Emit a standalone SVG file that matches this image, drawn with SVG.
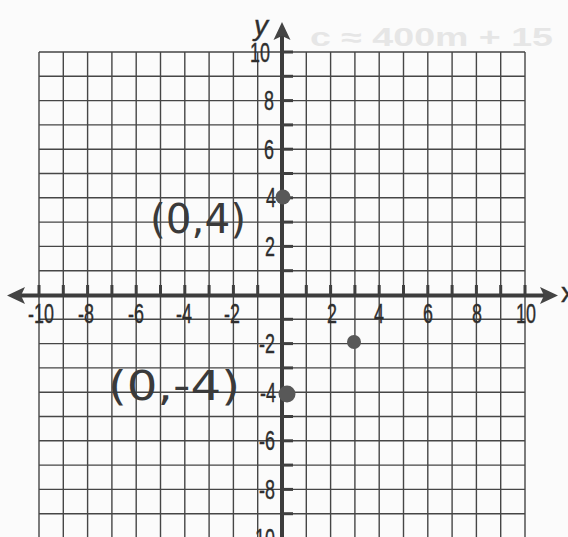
<svg xmlns="http://www.w3.org/2000/svg" width="568" height="537" viewBox="0 0 568 537">
<defs>
<style>
.grid{stroke:#464646;stroke-width:1.4;fill:none}
.axis{stroke:#3c3c3c;stroke-width:4;fill:none}
.tick{fill:#3f3f3f}
.head{fill:#444}
.num{font-family:"Liberation Sans",Arial,sans-serif;font-size:28px;fill:#2e2e2e;stroke:#2e2e2e;stroke-width:0.4}
.hand{font-family:"DejaVu Sans","Liberation Sans",sans-serif;font-size:40px;fill:#3a3a3a}
.ghost{font-family:"Liberation Sans",Arial,sans-serif;font-size:25px;fill:#e6e6e6;font-weight:bold}
.dot{fill:#585858}
</style>
</defs>
<rect width="568" height="537" fill="#fbfbfb"/>
<text class="ghost" x="310" y="46" textLength="243" lengthAdjust="spacingAndGlyphs">c ≈ 400m + 15</text>
<g id="grid">
<path class="grid" d="M39 52V537M63.3 52V537M87.6 52V537M111.9 52V537M136.2 52V537M160.5 52V537M184.8 52V537M209.1 52V537M233.4 52V537M257.7 52V537M306.3 52V537M330.6 52V537M354.9 52V537M379.2 52V537M403.5 52V537M427.8 52V537M452.1 52V537M476.4 52V537M500.7 52V537M525 52V537"/>
<path class="grid" d="M39 52H525M39 76.3H525M39 100.6H525M39 124.9H525M39 149.2H525M39 173.5H525M39 197.8H525M39 222.1H525M39 246.4H525M39 270.7H525M39 319.3H525M39 343.6H525M39 367.9H525M39 392.2H525M39 416.5H525M39 440.8H525M39 465.1H525M39 489.4H525M39 513.7H525"/>
</g>
<g id="x-axis">
<line class="axis" x1="18" y1="295.5" x2="547" y2="295.5"/>
<polygon class="head" points="7,295.5 25,287 21,295.5 25,304"/>
<polygon class="head" points="558,295.5 540,287 544,295.5 540,304"/>
<g class="tick">
<rect x="37.5" y="285" width="3" height="10"/><rect x="61.8" y="285" width="3" height="10"/><rect x="86.1" y="285" width="3" height="10"/><rect x="110.4" y="285" width="3" height="10"/><rect x="134.7" y="285" width="3" height="10"/><rect x="159" y="285" width="3" height="10"/><rect x="183.3" y="285" width="3" height="10"/><rect x="207.6" y="285" width="3" height="10"/><rect x="231.9" y="285" width="3" height="10"/><rect x="256.2" y="285" width="3" height="10"/>
<rect x="304.8" y="285" width="3" height="10"/><rect x="329.1" y="285" width="3" height="10"/><rect x="353.4" y="285" width="3" height="10"/><rect x="377.7" y="285" width="3" height="10"/><rect x="402" y="285" width="3" height="10"/><rect x="426.3" y="285" width="3" height="10"/><rect x="450.6" y="285" width="3" height="10"/><rect x="474.9" y="285" width="3" height="10"/><rect x="499.2" y="285" width="3" height="10"/><rect x="523.5" y="285" width="3" height="10"/>
</g>
<text class="num" x="561" y="302" font-size="20" stroke-width="0">x</text>
<g text-anchor="middle">
<text class="num" transform="translate(41 323) scale(0.64 1)">-10</text>
<text class="num" transform="translate(86 323) scale(0.64 1)">-8</text>
<text class="num" transform="translate(136 323) scale(0.64 1)">-6</text>
<text class="num" transform="translate(184 323) scale(0.64 1)">-4</text>
<text class="num" transform="translate(232 323) scale(0.64 1)">-2</text>
<text class="num" transform="translate(332 323) scale(0.64 1)">2</text>
<text class="num" transform="translate(379 323) scale(0.64 1)">4</text>
<text class="num" transform="translate(428 323) scale(0.64 1)">6</text>
<text class="num" transform="translate(477 323) scale(0.64 1)">8</text>
<text class="num" transform="translate(526 323) scale(0.64 1)">10</text>
</g>
</g>
<g id="y-axis">
<line class="axis" x1="282" y1="34" x2="282" y2="537"/>
<polygon class="head" points="282,22 273.5,40 282,36 290.5,40"/>
<g class="tick">
<rect x="282" y="50.5" width="11" height="3"/><rect x="282" y="74.8" width="11" height="3"/><rect x="282" y="99.1" width="11" height="3"/><rect x="282" y="123.4" width="11" height="3"/><rect x="282" y="147.7" width="11" height="3"/><rect x="282" y="172" width="11" height="3"/><rect x="282" y="196.3" width="11" height="3"/><rect x="282" y="220.6" width="11" height="3"/><rect x="282" y="244.9" width="11" height="3"/><rect x="282" y="269.2" width="11" height="3"/>
<rect x="282" y="317.8" width="11" height="3"/><rect x="282" y="342.1" width="11" height="3"/><rect x="282" y="366.4" width="11" height="3"/><rect x="282" y="390.7" width="11" height="3"/><rect x="282" y="415" width="11" height="3"/><rect x="282" y="439.3" width="11" height="3"/><rect x="282" y="463.6" width="11" height="3"/><rect x="282" y="487.9" width="11" height="3"/><rect x="282" y="512.2" width="11" height="3"/>
</g>
<text class="num" x="254" y="35" font-size="22" font-style="italic" stroke-width="0">y</text>
<g text-anchor="end">
<text class="num" transform="translate(270 62) scale(0.64 1)">10</text>
<text class="num" transform="translate(274 110) scale(0.64 1)">8</text>
<text class="num" transform="translate(274 159) scale(0.64 1)">6</text>
<text class="num" transform="translate(276 207) scale(0.64 1)">4</text>
<text class="num" transform="translate(275 256) scale(0.64 1)">2</text>
<text class="num" transform="translate(275 353) scale(0.64 1)">-2</text>
<text class="num" transform="translate(276 402) scale(0.64 1)">-4</text>
<text class="num" transform="translate(275 450) scale(0.64 1)">-6</text>
<text class="num" transform="translate(275 499) scale(0.64 1)">-8</text>
<text class="num" transform="translate(275 548) scale(0.64 1)">-10</text>
</g>
</g>
<g id="point-0-4">
<circle class="dot" cx="283" cy="197" r="7.5"/>
<text class="hand" x="150" y="233" textLength="96" lengthAdjust="spacingAndGlyphs">(0,4)</text>
</g>
<g id="point-0-neg4">
<circle class="dot" cx="287" cy="394" r="8.5"/>
<text class="hand" x="108" y="400" textLength="132" lengthAdjust="spacingAndGlyphs">(0,-4)</text>
</g>
<g id="point-3-neg2">
<circle class="dot" cx="354" cy="342" r="7"/>
</g>
</svg>
